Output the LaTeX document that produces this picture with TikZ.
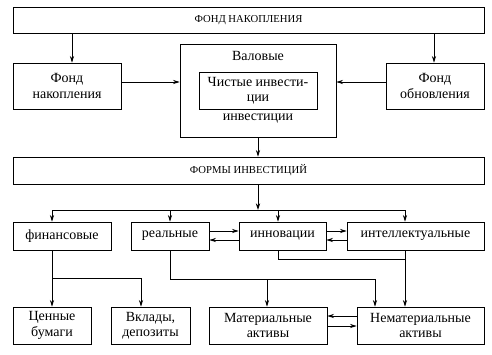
\documentclass[tikz,border=0pt]{standalone}
\usepackage{fontspec}
\setmainfont{Liberation Serif}
\usetikzlibrary{arrows.meta}
\begin{document}
\begin{tikzpicture}[x=0.75pt,y=-0.75pt,
  box/.style={draw,line width=0.6pt,inner sep=1pt,align=center,font=\rmfamily\fontsize{10.5}{11.5}\selectfont},
  plain/.style={inner sep=1pt,align=center,font=\rmfamily\fontsize{10.5}{11.5}\selectfont},
  capsbox/.style={box,font=\rmfamily\fontsize{8}{9}\selectfont},
  arr/.style={line width=0.6pt,-{Stealth[length=5pt,width=3.2pt]}},
  ln/.style={line width=0.6pt}]
\useasboundingbox (0,0) rectangle (492,354);
% boxes
\node[capsbox,minimum width=353.25pt,minimum height=19.5pt] (top) at (248.5,20) {ФОНД НАКОПЛЕНИЯ};
\node[box,minimum width=81pt,minimum height=34.5pt] (fondL) at (67,86) {Фонд\\накопления};
\node[box,minimum width=117pt,minimum height=69.75pt] (mid) at (258,90.5) {};
\node[box,minimum width=88.5pt,minimum height=27.75pt] (inner) at (258,90.5) {Чистые инвести-\\ции};
\node[plain] (val) at (258,56) {Валовые};
\node[plain] (inv) at (258,119) {инвестиции};
\node[box,minimum width=73.5pt,minimum height=34.5pt] (fondR) at (435,86) {Фонд\\обновления};
\node[capsbox,minimum width=353.25pt,minimum height=20.25pt] (forms) at (248.5,170.5) {ФОРМЫ ИНВЕСТИЦИЙ};
\node[box,minimum width=73.5pt,minimum height=21pt] (fin) at (62,236) {финансовые};
\node[box,minimum width=58.5pt,minimum height=21pt] (real) at (170,236) {реальные};
\node[box,minimum width=65.25pt,minimum height=21pt] (innov) at (282.5,236) {инновации};
\node[box,minimum width=102.75pt,minimum height=21pt] (intel) at (415.5,236) {интеллектуальные};
\node[box,minimum width=58.5pt,minimum height=27.75pt] (cen) at (52,325.5) {Ценные\\бумаги};
\node[box,minimum width=59.25pt,minimum height=27.75pt] (vkl) at (150.5,325.5) {Вклады,\\депозиты};
\node[box,minimum width=88.5pt,minimum height=27.75pt] (mat) at (268,325.5) {Материальные\\активы};
\node[box,minimum width=95.25pt,minimum height=27.75pt] (nemat) at (420.5,325.5) {Нематериальные\\активы};
% helper coordinates
\coordinate (bus) at (258,210);
\coordinate (fb) at (52,278);
\coordinate (rb) at (170,279);
\coordinate (ib) at (278,259);
% top level
\draw[arr] (top.south -| 72,0) -- (fondL.north -| 72,0);
\draw[arr] (top.south -| 434,0) -- (fondR.north -| 434,0);
\draw[arr] (fondL.east |- 0,82) -- (mid.west |- 0,82);
\draw[arr] (fondR.west |- 0,82) -- (mid.east |- 0,82);
\draw[arr] (mid.south) -- (forms.north -| mid.south);
\draw[arr] (forms.south -| bus) -- (bus);
\draw[ln] (bus -| 52,0) -- (bus -| 405,0);
\draw[arr] (bus -| 52,0) -- (fin.north -| 52,0);
\draw[arr] (bus -| 170,0) -- (real.north -| 170,0);
\draw[arr] (bus -| 278,0) -- (innov.north -| 278,0);
\draw[arr] (bus -| 405,0) -- (intel.north -| 405,0);
% horizontal pairs
\draw[arr] (real.east |- 0,231) -- (innov.west |- 0,231);
\draw[arr] (innov.west |- 0,240) -- (real.east |- 0,240);
\draw[arr] (innov.east |- 0,231) -- (intel.west |- 0,231);
\draw[arr] (intel.west |- 0,240) -- (innov.east |- 0,240);
% financial branch
\draw[ln] (fin.south -| fb) -- (fb) -- (fb -| 141,0);
\draw[arr] (fb) -- (cen.north -| fb);
\draw[arr] (fb -| 141,0) -- (vkl.north -| 141,0);
% real branch
\draw[ln] (real.south -| rb) -- (rb) -- (rb -| 375,0);
\draw[arr] (rb -| 267,0) -- (mat.north -| 267,0);
\draw[arr] (rb -| 375,0) -- (nemat.north -| 375,0);
% innovation / intellectual
\draw[ln] (innov.south -| ib) -- (ib) -- (ib -| 405,0);
\draw[arr] (intel.south -| 405,0) -- (nemat.north -| 405,0);
% bottom pair
\draw[arr] (nemat.west |- 0,316) -- (mat.east |- 0,316);
\draw[arr] (mat.east |- 0,326) -- (nemat.west |- 0,326);
\end{tikzpicture}
\end{document}
